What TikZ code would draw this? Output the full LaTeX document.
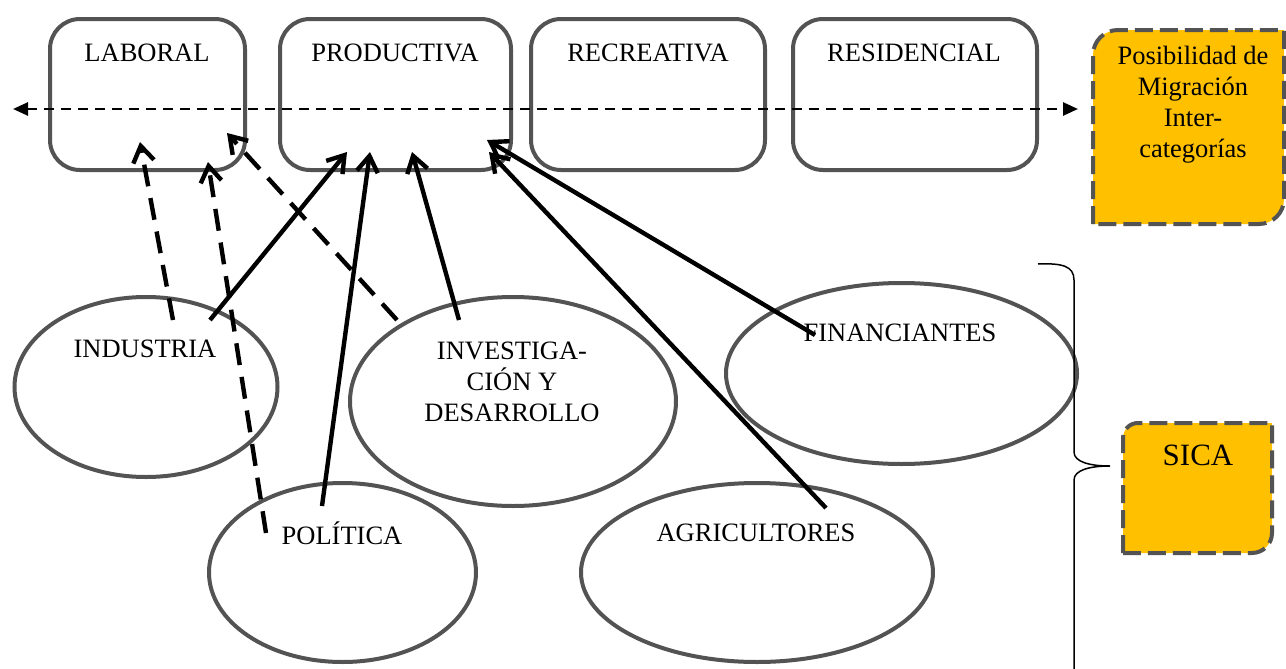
\documentclass[tikz,border=0pt]{standalone}
\usepackage{fontspec}
\setmainfont{Liberation Serif}
\usetikzlibrary{arrows.meta,shapes.geometric}
\definecolor{marco}{RGB}{83,83,83}
\definecolor{oro}{RGB}{255,192,0}

\begin{document}
\begin{tikzpicture}[x=0.5pt,y=-0.5pt,font=\fontsize{13.25}{15.5}\selectfont]
  \tikzset{categoria/.style={draw=marco,line width=2pt,rounded corners=15pt,minimum height=75.5pt,inner sep=0pt},
    actor/.style={draw=marco,line width=2pt,ellipse,inner sep=0pt},
    etiqueta/.style={align=center,inner sep=0pt},
    migra/.style={draw=marco,fill=oro,line width=2pt,dash pattern=on 9pt off 3.5pt},
    flujo/.style={line width=2.2pt,-{Straight Barb[length=8pt,width=10.5pt]}},
    indirecto/.style={flujo,dash pattern=on 11pt off 6pt}}
  \useasboundingbox (0,0) rectangle (1286,669);
  \node[categoria,minimum width=97.5pt] (lab) at (147.5,94.5) {};
  \node[categoria,minimum width=115.5pt] (pro) at (395.5,94.5) {};
  \node[categoria,minimum width=117pt] (rec) at (648,94.5) {};
  \node[categoria,minimum width=122pt] (res) at (915,94.5) {};
  \node[etiqueta] (labt) at (147,53) {LABORAL};
  \node[etiqueta] (prot) at (395,53) {PRODUCTIVA};
  \node[etiqueta] (rect) at (648,53) {RECREATIVA};
  \node[etiqueta] (rest) at (914,53) {RESIDENCIAL};
  \draw[migra] (1093,224) -- (1093,55) arc[start angle=180,end angle=90,radius=12.5pt]
    -- (1284,30) -- (1284,199) arc[start angle=0,end angle=-90,radius=12.5pt] -- cycle;
  \node[etiqueta] (migt) at (1193,105) {Posibilidad de\\Migración\\Inter-\\categorías};
  \coordinate (izq) at (13,109);
  \coordinate (der) at (1078,109);
  \draw[line width=1.3pt,dash pattern=on 5pt off 3.5pt,{Triangle[length=7.5pt,width=6.5pt]}-{Triangle[length=7.5pt,width=6.5pt]}] (izq) -- (der);

  \node[actor,minimum width=131.5pt,minimum height=90pt] (ind) at (146,387) {};
  \node[actor,minimum width=163pt,minimum height=104.5pt] (inv) at (513,401.5) {};
  \node[actor,minimum width=175.5pt,minimum height=90.5pt] (fin) at (901.5,373.5) {};
  \node[actor,minimum width=133.5pt,minimum height=89.5pt] (pol) at (342.5,572.5) {};
  \node[actor,minimum width=176pt,minimum height=89.5pt] (agr) at (757,572.5) {};
  \node[etiqueta] (indt) at (145,349) {INDUSTRIA};
  \node[etiqueta] (invt) at (512,382) {INVESTIGA-\\CIÓN Y\\DESARROLLO};
  \node[etiqueta] (fint) at (900,333) {FINANCIANTES};
  \node[etiqueta] (polt) at (342,533) {POLÍTICA};
  \node[etiqueta] (agrt) at (756,533) {AGRICULTORES};

  \draw[line width=0.75pt] (1038,264) .. controls (1062,263) and (1074,266) .. (1074,280) -- (1074,452)
    .. controls (1074,462) and (1090,466) .. (1110,466) .. controls (1090,466) and (1074,470) .. (1074,480)
    -- (1074,669) .. controls (1074,680) and (1062,683) .. (1038,683);
  \draw[migra] (1123,553) -- (1123,438) arc[start angle=180,end angle=90,radius=7.5pt]
    -- (1272,423) -- (1272,533) arc[start angle=0,end angle=-90,radius=10pt] -- cycle;
  \node[etiqueta,font=\fontsize{15.5}{18}\selectfont] (sicat) at (1198,455) {SICA};

  \coordinate (ind1) at (173,320); \coordinate (ind2) at (210,320);
  \coordinate (inv1) at (397,320); \coordinate (inv2) at (459,320);
  \coordinate (pol1) at (266,533); \coordinate (pol2) at (322,506);
  \coordinate (agr1) at (826,508); \coordinate (fin1) at (815,335);
  \coordinate (lab1) at (140,142); \coordinate (lab2) at (208,162); \coordinate (lab3) at (227,133);
  \coordinate (pro1) at (347,152); \coordinate (pro2) at (370,152); \coordinate (pro3) at (412,152);
  \coordinate (pro4) at (489,152); \coordinate (pro5) at (487,140);
  \foreach \a/\b in {ind1/lab1,pol1/lab2,inv1/lab3}
    \draw[indirecto] (\a) -- (\b);
  \foreach \a/\b in {ind2/pro1,pol2/pro2,inv2/pro3,agr1/pro4,fin1/pro5}
    \draw[flujo] (\a) -- (\b);
\end{tikzpicture}
\end{document}
